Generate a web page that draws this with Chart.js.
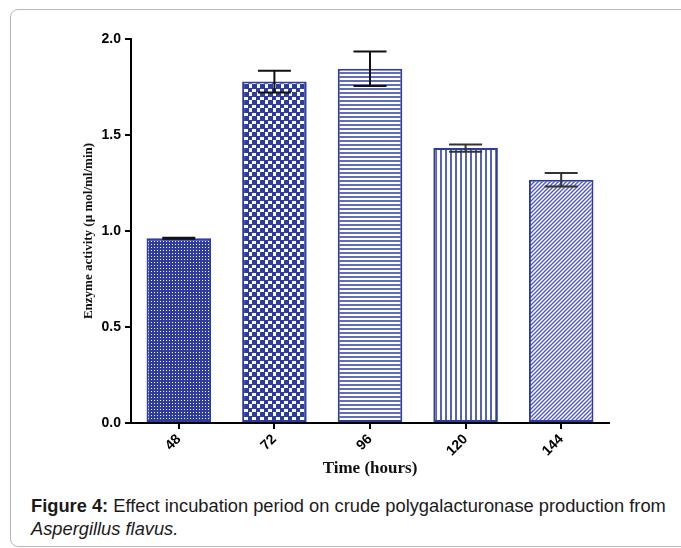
<!DOCTYPE html>
<html>
<head>
<meta charset="utf-8">
<script src="https://cdn.jsdelivr.net/npm/chart.js@4.4.1/dist/chart.umd.min.js"></script>
<style>
  html, body { margin: 0; padding: 0; background: #fff; width: 681px; height: 548px; overflow: hidden; }
  #frame { position: absolute; left: 10px; top: 9px; width: 720px; height: 538px; border: 1px solid #b8b8b8; border-radius: 8px; box-sizing: border-box; }
  #wrap { position: absolute; left: 0; top: 0; width: 681px; height: 480px; }
  #caption { position: absolute; left: 31px; top: 494px; width: 645px; font-family: "Liberation Sans", Arial, sans-serif; font-size: 18.3px; line-height: 23px; color: #1a1a1a; white-space: nowrap; }
</style>
</head>
<body>
<div id="frame"></div>
<div id="wrap"><canvas id="c" width="681" height="480"></canvas></div>
<div id="caption"><b>Figure 4:</b> Effect incubation period on crude polygalacturonase production from<br><i>Aspergillus flavus.</i></div>
<script>
// Data
const categories = ["48", "72", "96", "120", "144"];
const activity = [0.962, 1.778, 1.845, 1.432, 1.267];
const errors = [0.003, 0.056, 0.090, 0.019, 0.035];
const yTicks = [0.0, 0.5, 1.0, 1.5, 2.0];

const NAVY = '#2e3c9b';

function makePattern(kind) {
  const c = document.createElement('canvas');
  const ctx = c.getContext('2d');
  if (kind === 'dots') {
    c.width = 3; c.height = 3;
    ctx.fillStyle = NAVY; ctx.fillRect(0, 0, 3, 3);
    ctx.fillStyle = '#ffffff'; ctx.fillRect(1, 1, 1, 1);
  } else if (kind === 'checker') {
    c.width = 8; c.height = 8;
    ctx.fillStyle = '#ffffff'; ctx.fillRect(0, 0, 8, 8);
    ctx.fillStyle = NAVY;
    ctx.fillRect(0, 0, 4, 4); ctx.fillRect(4, 4, 4, 4);
    ctx.fillRect(0, 0, 8, 1); ctx.fillRect(0, 0, 1, 8);
  } else if (kind === 'hlines') {
    c.width = 4; c.height = 4;
    ctx.fillStyle = '#ffffff'; ctx.fillRect(0, 0, 4, 4);
    ctx.fillStyle = 'rgba(46,60,155,0.75)'; ctx.fillRect(0, 0, 4, 2);
  } else if (kind === 'vlines') {
    c.width = 5; c.height = 5;
    ctx.fillStyle = '#ffffff'; ctx.fillRect(0, 0, 5, 5);
    ctx.fillStyle = 'rgba(46,60,155,0.8)'; ctx.fillRect(0, 0, 2, 5);
  } else if (kind === 'diag') {
    c.width = 4; c.height = 4;
    ctx.fillStyle = '#ffffff'; ctx.fillRect(0, 0, 4, 4);
    ctx.strokeStyle = 'rgba(46,60,155,0.85)'; ctx.lineWidth = 1.3;
    ctx.beginPath();
    ctx.moveTo(-1, 5); ctx.lineTo(5, -1);
    ctx.moveTo(-1, 1); ctx.lineTo(1, -1);
    ctx.moveTo(3, 5); ctx.lineTo(5, 3);
    ctx.stroke();
  }
  return document.getElementById('c').getContext('2d').createPattern(c, 'repeat');
}
const patterns = ['dots', 'checker', 'hlines', 'vlines', 'diag'].map(makePattern);

const errorBarPlugin = {
  id: 'errorBars',
  afterDatasetsDraw(chart) {
    const ctx = chart.ctx;
    const meta = chart.getDatasetMeta(0);
    const y = chart.scales.y;
    ctx.save();
    ctx.lineWidth = 2;
    meta.data.forEach((bar, i) => {
      const v = activity[i], e = errors[i];
      const yt = y.getPixelForValue(v + e);
      const yb = y.getPixelForValue(v - e);
      const x = bar.x;
      const half = 16.5;
      ctx.strokeStyle = i >= 3 ? '#333333' : '#111111';
      ctx.beginPath();
      ctx.moveTo(x, yt); ctx.lineTo(x, yb);
      ctx.moveTo(x - half, yt); ctx.lineTo(x + half, yt);
      ctx.moveTo(x - half, yb); ctx.lineTo(x + half, yb);
      ctx.stroke();
    });
    ctx.restore();
  }
};

new Chart(document.getElementById('c'), {
  type: 'bar',
  data: {
    labels: categories,
    datasets: [{
      data: activity,
      backgroundColor: patterns,
      borderColor: NAVY,
      borderWidth: 2,
      borderSkipped: false,
      barPercentage: 0.675,
      categoryPercentage: 1.0
    }]
  },
  options: {
    responsive: false,
    animation: false,
    events: [],
    layout: { padding: { left: 81, right: 72, top: 39, bottom: 0 } },
    plugins: { legend: { display: false }, tooltip: { enabled: false } },
    scales: {
      x: {
        offset: true,
        grid: { display: true, drawOnChartArea: false, drawTicks: true, tickLength: 6, color: '#000', lineWidth: 2, offset: false },
        border: { display: true, color: '#000', width: 2 },
        ticks: {
          minRotation: 45, maxRotation: 45, color: '#000', padding: 2,
          font: { family: '"Liberation Sans", Arial, sans-serif', size: 14, weight: 'bold' }
        },
        title: {
          display: true, text: 'Time (hours)', color: '#111',
          font: { family: '"Liberation Serif", "Times New Roman", serif', size: 17, weight: 'bold' },
          padding: { top: 0, bottom: 1 }
        },
        afterFit(scale) { scale.height = 57; }
      },
      y: {
        min: 0, max: 2.0,
        afterBuildTicks(scale) { scale.ticks = yTicks.map(v => ({ value: v })); },
        grid: { display: true, drawOnChartArea: false, drawTicks: true, tickLength: 6, color: '#000', lineWidth: 2 },
        border: { display: true, color: '#000', width: 2 },
        ticks: {
          color: '#000', padding: 4,
          font: { family: '"Liberation Sans", Arial, sans-serif', size: 14, weight: 'bold' },
          callback: (v) => Number(v).toFixed(1)
        },
        title: {
          display: true, text: 'Enzyme activity (\u00b5 mol/ml/min)', color: '#111',
          font: { family: '"Liberation Serif", "Times New Roman", serif', size: 13, weight: 'bold' },
          padding: { top: 0, bottom: 0 }
        },
        afterFit(scale) { scale.width = 50; }
      }
    }
  },
  plugins: [errorBarPlugin]
});
</script>
</body>
</html>
